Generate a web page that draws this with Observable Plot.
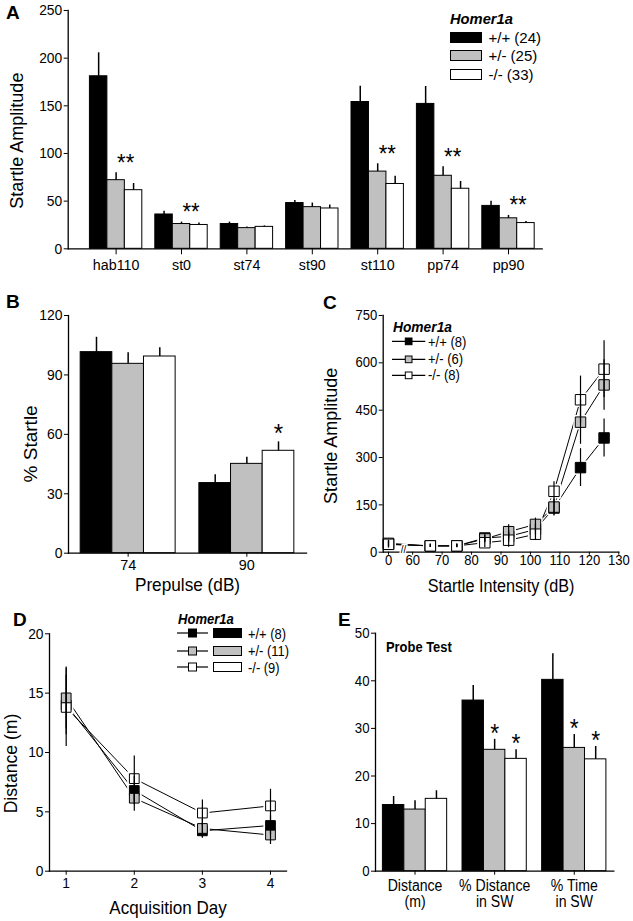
<!DOCTYPE html>
<html><head><meta charset="utf-8">
<script src="https://cdn.jsdelivr.net/npm/d3@7"></script>
<script src="https://cdn.jsdelivr.net/npm/@observablehq/plot@0.6"></script>
<style>
body{margin:0;background:#fff}
#fig{position:relative;width:633px;height:921px;overflow:hidden;background:#fff}
.lbl{position:absolute;white-space:nowrap;line-height:1;color:#000}
</style></head><body><div id="fig"></div><script>
// ---------------- DATA ----------------
const genotypes = ["+/+", "+/-", "-/-"];

// Panel A: startle amplitude by trial type
const aGroups = ["hab110", "st0", "st74", "st90", "st110", "pp74", "pp90"];
const aWT  = [181, 36, 26, 48, 154, 152, 45];
const aHet = [72, 26, 21.7, 43.7, 81, 76.6, 32];
const aKO  = [61.5, 25, 23, 42.3, 68, 63, 27];
const aWTerr  = [24.6, 3.5, 2, 2.7, 16.6, 18.3, 4.8];
const aHeterr = [7.7, 2, 1.3, 4.3, 8.2, 9.4, 3];
const aKOerr  = [7, 2, 1, 3.7, 8.2, 7.6, 1.7];
const aStars  = ["**", "**", "", "", "**", "**", "**"];
const aN = [24, 25, 33];
const aTicks = [0, 50, 100, 150, 200, 250];

// Panel B: % startle by prepulse
const bGroups = ["74", "90"];
const bWT  = [101.5, 35.4];
const bHet = [95.6, 45.1];
const bKO  = [99.3, 51.7];
const bWTerr  = [7.5, 4.2];
const bHeterr = [5.6, 3.4];
const bKOerr  = [4.4, 4.5];
const bStarsKO = ["", "*"];
const bTicks = [0, 30, 60, 90, 120];

// Panel C: startle amplitude vs intensity
const cX   = [0, 66, 75, 84.5, 92.6, 101.7, 108, 117, 125];
const cWT  = [25, 20, 20, 45, 50, 72, 140, 268, 362];
const cHet = [28, 20, 20, 42, 65, 88, 143, 412, 530];
const cKO  = [25, 20, 20, 30, 38, 57, 193, 483, 580];
const cWTerr  = [10, 5, 5, 12, 18, 18, 25, 60, 60];
const cHeterr = [10, 5, 5, 12, 22, 20, 25, 70, 80];
const cKOerr  = [12, 5, 6, 15, 22, 20, 30, 75, 90];
const cN = [8, 6, 8];
const cTicks = [0, 60, 70, 80, 90, 100, 110, 120, 130];
const cYTicks = [0, 150, 300, 450, 600, 750];

// Panel D: acquisition distance
const dDays = [1, 2, 3, 4];
const dWT  = [14.0, 6.8, 3.4, 3.85];
const dHet = [14.6, 6.15, 3.6, 3.05];
const dKO  = [13.8, 7.8, 4.9, 5.5];
const dWTerr  = [2.5, 1.2, 0.6, 0.8];
const dHeterr = [2.6, 1.1, 0.8, 0.8];
const dKOerr  = [3.3, 1.9, 1.1, 1.4];
const dN = [8, 11, 9];
const dYTicks = [0, 5, 10, 15, 20];

// Panel E: probe test
const eGroups = ["Distance\n(m)", "% Distance\nin SW", "% Time\nin SW"];
const eWT  = [13.9, 35.85, 40.2];
const eHet = [12.95, 25.5, 25.9];
const eKO  = [15.2, 23.6, 23.5];
const eWTerr  = [1.8, 3.15, 5.5];
const eHeterr = [1.85, 2.2, 2.8];
const eKOerr  = [1.7, 1.9, 2.7];
const eStarsHet = ["", "*", "*"];
const eStarsKO  = ["", "*", "*"];
const eYTicks = [0, 10, 20, 30, 40, 50];

// ---------------- STYLE ----------------
const genoFill = ["#000000", "#c0c0c0", "#ffffff"];
const FONT = '"Liberation Sans",Arial,Helvetica,sans-serif';
const baseStyle = {fontFamily: FONT, fontSize: "15px", color: "#000", background: "transparent", overflow: "visible"};

// horizontal condensing of text to match the reference's narrow lettering
const cnv = document.createElement("canvas").getContext("2d");
const ratioCache = new Map();
function fontRatio(cs) {
  const key = cs.fontStyle + "|" + cs.fontWeight + "|" + cs.fontFamily;
  if (!ratioCache.has(key)) {
    cnv.font = `${cs.fontStyle} ${cs.fontWeight} 100px ${cs.fontFamily}`;
    const w = cnv.measureText("0123456789").width;
    ratioCache.set(key, w > 0 ? 556 / w : 1);
  }
  return ratioCache.get(key);
}
function condenseSVG(svg, f) {
  svg.querySelectorAll("text").forEach(t => {
    const rotated = (t.getAttribute("transform") || "").includes("rotate");
    const k = (rotated ? 1 : f) * fontRatio(getComputedStyle(t));
    if (Math.abs(k - 1) < 0.005) return;
    const parts = t.querySelectorAll("tspan");
    (parts.length ? [...parts] : [t]).forEach(el => {
      const len = el.getComputedTextLength();
      if (len > 0) {
        el.setAttribute("textLength", (len * k).toFixed(2));
        el.setAttribute("lengthAdjust", "spacingAndGlyphs");
      }
    });
  });
}

const fig = document.getElementById("fig");
function place(node, left, top) {
  node.style.position = "absolute";
  node.style.left = left + "px";
  node.style.top = top + "px";
  fig.appendChild(node);
  return node;
}
function placePlot(p, left, top, f) {
  place(p, left, top);
  condenseSVG(p, f);
}
function label(text, left, cy, size, opts = {}) {
  const d = document.createElement("div");
  d.className = "lbl";
  d.textContent = text;
  d.style.fontSize = size + "px";
  d.style.fontFamily = FONT;
  d.style.fontWeight = opts.weight || "normal";
  d.style.fontStyle = opts.style || "normal";
  place(d, left, cy - 0.49 * size);
  const k = (opts.f ?? 0.92) * fontRatio(getComputedStyle(d));
  d.style.transformOrigin = "0 50%";
  d.style.transform = `scaleX(${k.toFixed(3)})`;
  return d;
}
function boxSwatch(left, cy, w, h, fill) {
  const d = document.createElement("div");
  d.style.boxSizing = "border-box";
  d.style.width = w + "px"; d.style.height = h + "px";
  d.style.border = "1.3px solid #000";
  d.style.background = fill;
  return place(d, left, cy - h / 2);
}
const NS = "http://www.w3.org/2000/svg";
function lineSwatch(x1, x2, cy, side, fill) {
  const w = x2 - x1, h = side + 4;
  const s = document.createElementNS(NS, "svg");
  s.setAttribute("width", w); s.setAttribute("height", h);
  s.style.overflow = "visible";
  const l = document.createElementNS(NS, "line");
  l.setAttribute("x1", 0); l.setAttribute("x2", w);
  l.setAttribute("y1", h / 2); l.setAttribute("y2", h / 2);
  l.setAttribute("stroke", "#000"); l.setAttribute("stroke-width", 1.2);
  s.appendChild(l);
  const r = document.createElementNS(NS, "rect");
  r.setAttribute("x", w / 2 - side / 2); r.setAttribute("y", h / 2 - side / 2);
  r.setAttribute("width", side); r.setAttribute("height", side);
  r.setAttribute("fill", fill); r.setAttribute("stroke", "#000"); r.setAttribute("stroke-width", 1);
  s.appendChild(r);
  return place(s, x1, cy - h / 2);
}

// grouped bars on a band x scale: each genotype occupies a third of the band
function barMarks({groups, series, errs, stars, starShift, starFont, starDy, W, mL, mR, pi, po}) {
  const n = groups.length, R = W - mL - mR;
  const step = R / (n - pi + 2 * po), b = step * (1 - pi) / 3;
  const marks = [];
  genotypes.forEach((g, j) => {
    const rows = groups.map((grp, i) => ({group: grp, value: series[j][i], err: errs[j][i]}));
    marks.push(Plot.barY(rows, {x: "group", y: "value", fill: genoFill[j], stroke: "#000", strokeWidth: 1, insetLeft: j * b, insetRight: (2 - j) * b}));
    marks.push(Plot.ruleX(rows, {x: "group", y1: "value", y2: d => d.value + d.err, dx: (j - 1) * b, stroke: "#000", strokeWidth: 1.5}));
  });
  genotypes.forEach((g, j) => {
    if (!stars[j]) return;
    const rows = groups.map((grp, i) => ({group: grp, top: series[j][i] + errs[j][i], star: stars[j][i]})).filter(d => d.star);
    marks.push(Plot.text(rows, {x: "group", y: "top", text: "star", dx: (j - 1 + starShift) * b, dy: starDy, lineAnchor: "bottom", fontSize: starFont}));
  });
  return marks;
}

// point/line series with square markers
function pointMarks({xs, series, errs, order, r, halo, xmap}) {
  const rows = [];
  genotypes.forEach((g, j) => xs.forEach((x, i) => rows.push({x: xmap(x), j, value: series[j][i], err: errs[j][i]})));
  const marks = [];
  genotypes.forEach((g, j) => marks.push(Plot.line(rows.filter(d => d.j === j), {x: "x", y: "value", stroke: "#000", strokeWidth: 1})));
  marks.push(Plot.dot(rows, {x: "x", y: "value", symbol: "square", r, fill: "white", stroke: "white", strokeWidth: halo}));
  order.forEach(j => marks.push(Plot.dot(rows.filter(d => d.j === j), {x: "x", y: "value", symbol: "square", r, fill: genoFill[j], stroke: "#000", strokeWidth: 1})));
  marks.push(Plot.ruleX(rows, {x: "x", y1: d => d.value - d.err, y2: d => d.value + d.err, stroke: "#000", strokeWidth: 1.2}));
  return marks;
}
const yLabel = (t, dx, dy, size) => Plot.text([t], {text: d => d, frameAnchor: "left", textAnchor: "middle", lineAnchor: "middle", rotate: -90, dx, dy, fontSize: size});
const xLabel = (t, dy, size) => Plot.text([t], {text: d => d, frameAnchor: "bottom", textAnchor: "middle", lineAnchor: "middle", dy, fontSize: size});

// ---------------- PANEL A ----------------
{
  const L = {W: 560, H: 285, mL: 67.7, mR: 18.3, mT: 10, mB: 36.7, pi: 0.199, po: 0.2235, align: 0.743};
  const p = Plot.plot({
    width: L.W, height: L.H, marginLeft: L.mL, marginRight: L.mR, marginTop: L.mT, marginBottom: L.mB,
    style: baseStyle,
    x: {type: "band", domain: aGroups, paddingInner: L.pi, paddingOuter: L.po, align: L.align, round: false},
    y: {domain: [0, 250]},
    marks: [
      ...barMarks({groups: aGroups, series: [aWT, aHet, aKO], errs: [aWTerr, aHeterr, aKOerr], stars: [null, aStars, null], starShift: 0.55, starFont: 24, starDy: -2, ...L}),
      Plot.frame({anchor: "left", strokeWidth: 1.3}),
      Plot.frame({anchor: "bottom", strokeWidth: 1.3}),
      Plot.axisY({ticks: aTicks, tickSize: 4, tickPadding: 2, fontSize: 15, label: null}),
      Plot.axisX({tickSize: 6, tickPadding: 4, fontSize: 15.5, label: null}),
      yLabel("Startle Amplitude", -50.7, 11, 18)
    ]
  });
  placePlot(p, 0, 0, 0.92);
}
// ---------------- PANEL B ----------------
{
  const L = {W: 320, H: 300, mL: 68, mR: 14, mT: 25, mB: 37.3, pi: 0.2, po: 0.1025, align: 0.5};
  const p = Plot.plot({
    width: L.W, height: L.H, marginLeft: L.mL, marginRight: L.mR, marginTop: L.mT, marginBottom: L.mB,
    style: baseStyle,
    x: {type: "band", domain: bGroups, paddingInner: L.pi, paddingOuter: L.po, align: L.align, round: false},
    y: {domain: [0, 120]},
    marks: [
      ...barMarks({groups: bGroups, series: [bWT, bHet, bKO], errs: [bWTerr, bHeterr, bKOerr], stars: [null, null, bStarsKO], starShift: 0, starFont: 26, starDy: 0, ...L}),
      Plot.frame({anchor: "left", strokeWidth: 1.3}),
      Plot.frame({anchor: "bottom", strokeWidth: 1.3}),
      Plot.axisY({ticks: bTicks, tickSize: 4, tickPadding: 2, fontSize: 15, label: null}),
      Plot.axisX({tickSize: 4, tickPadding: 1.5, fontSize: 15.5, label: null}),
      yLabel("% Startle", -38, 9.5, 19),
      xLabel("Prepulse (dB)", 32, 18.5)
    ]
  });
  placePlot(p, 0, 290, 0.93);
}
// ---------------- PANEL C ----------------
{
  const cZeroAt = 51.8;                       // display position of the 0 dB point left of the axis break
  const xmap = v => v === 0 ? cZeroAt : v;
  const p = Plot.plot({
    width: 323, height: 300, marginLeft: 72.7, marginRight: 14.7, marginTop: 25, marginBottom: 38.3,
    style: baseStyle,
    x: {domain: [50, 130]},
    y: {domain: [0, 750]},
    marks: [
      ...pointMarks({xs: cX, series: [cWT, cHet, cKO], errs: [cWTerr, cHeterr, cKOerr], order: [0, 1, 2], r: 5.9, halo: 4, xmap}),
      Plot.frame({anchor: "left", strokeWidth: 1.3}),
      Plot.frame({anchor: "bottom", strokeWidth: 1.3}),
      Plot.text(["//"], {text: d => d, x: (cZeroAt + cTicks[1]) / 2, y: cYTicks[0], dx: 3, dy: -3, fontSize: 11, stroke: "white", strokeWidth: 3, fill: "#000"}),
      Plot.axisY({ticks: cYTicks, tickSize: 4, tickPadding: 2, fontSize: 14.5, label: null}),
      Plot.axisX({ticks: cTicks.map(xmap), tickFormat: d => d === cZeroAt ? "0" : String(d), tickSize: 3, tickPadding: 0, fontSize: 14.5, label: null}),
      yLabel("Startle Amplitude", -52, 2, 18),
      xLabel("Startle Intensity (dB)", 34, 18)
    ]
  });
  placePlot(p, 310, 290, 0.9);
}
// ---------------- PANEL D ----------------
{
  const p = Plot.plot({
    width: 320, height: 331, marginLeft: 49, marginRight: 34, marginTop: 43.3, marginBottom: 50.3,
    style: baseStyle,
    x: {domain: [0.755, 4.235]},
    y: {domain: [0, 20]},
    marks: [
      ...pointMarks({xs: dDays, series: [dWT, dHet, dKO], errs: [dWTerr, dHeterr, dKOerr], order: [0, 2, 1], r: 5.5, halo: 4.5, xmap: v => v}),
      Plot.frame({anchor: "left", strokeWidth: 1.3}),
      Plot.frame({anchor: "bottom", strokeWidth: 1.3}),
      Plot.axisY({ticks: dYTicks, tickSize: 4, tickPadding: 2, fontSize: 15, label: null}),
      Plot.axisX({ticks: dDays, tickFormat: d => String(d), tickSize: 4, tickPadding: 2.2, fontSize: 15, label: null}),
      yLabel("Distance (m)", -38, 11, 17.6),
      xLabel("Acquisition Day", 36.8, 18.5)
    ]
  });
  placePlot(p, 0, 590, 0.92);
}
// ---------------- PANEL E ----------------
{
  const L = {W: 323, H: 331, mL: 65, mR: 19.7, mT: 42.7, mB: 50.3, pi: 0.193, po: 0.093, align: 0.5};
  const p = Plot.plot({
    width: L.W, height: L.H, marginLeft: L.mL, marginRight: L.mR, marginTop: L.mT, marginBottom: L.mB,
    style: baseStyle,
    x: {type: "band", domain: eGroups, paddingInner: L.pi, paddingOuter: L.po, align: L.align, round: false},
    y: {domain: [0, 50]},
    marks: [
      ...barMarks({groups: eGroups, series: [eWT, eHet, eKO], errs: [eWTerr, eHeterr, eKOerr], stars: [null, eStarsHet, eStarsKO], starShift: 0, starFont: 26, starDy: 2.5, ...L}),
      Plot.frame({anchor: "left", strokeWidth: 1.3}),
      Plot.frame({anchor: "bottom", strokeWidth: 1.3}),
      Plot.axisY({ticks: eYTicks, tickSize: 4, tickPadding: 2, fontSize: 15, label: null}),
      Plot.axisX({tickSize: 4, tickPadding: 3.5, fontSize: 16, lineHeight: 1.04, label: null})
    ]
  });
  placePlot(p, 310, 590, 0.88);
}

// ---------------- LEGENDS & LETTERS ----------------
// A legend
label("Homer1a", 450.3, 18.3, 15, {weight: "bold", style: "italic", f: 0.98});
[37, 55.5, 74].forEach((cy, j) => {
  boxSwatch(450.3, cy, 32, 11, genoFill[j]);
  label(`${genotypes[j]} (${aN[j]})`, 488.5, cy, 15, {f: 1});
});
// C legend
label("Homer1a", 393.3, 326.7, 14.5, {weight: "bold", style: "italic", f: 0.95});
[341.7, 359, 375].forEach((cy, j) => {
  lineSwatch(391.7, 425, cy, 6.7, genoFill[j]);
  label(`${genotypes[j]} (${cN[j]})`, 428.3, cy, 14, {f: 0.93});
});
// D legend
label("Homer1a", 178, 618, 15, {weight: "bold", style: "italic", f: 0.87});
[633.3, 650.7, 667.3].forEach((cy, j) => {
  lineSwatch(177, 208, cy, 8, genoFill[j]);
  boxSwatch(213, cy, 29, 10, genoFill[j]);
  label(`${genotypes[j]} (${dN[j]})`, 248, cy, 15, {f: 0.86});
});
// E inner title
label("Probe Test", 386, 646, 15, {weight: "bold", f: 0.86});
// panel letters
[["A", 6, 12.5], ["B", 6, 301.5], ["C", 323, 302], ["D", 13, 619.5], ["E", 338, 619]].forEach(([t, x, cy]) =>
  label(t, x, cy, 19, {weight: "bold", f: 1}));
</script></body></html>
